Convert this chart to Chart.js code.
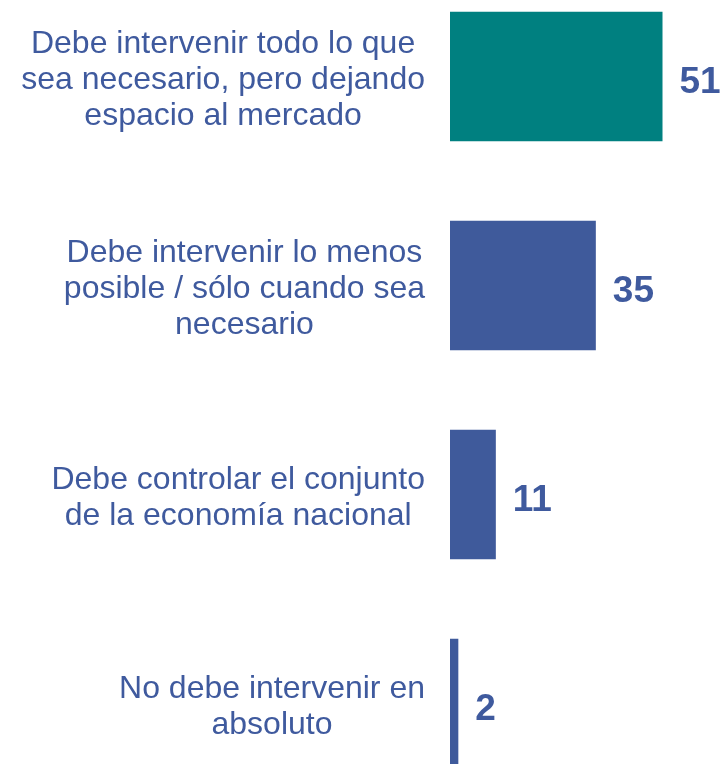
<!DOCTYPE html>
<html>
<head>
<meta charset="utf-8">
<script src="https://cdn.jsdelivr.net/npm/chart.js@4"></script>
<style>
  html, body { margin: 0; padding: 0; background: #fff; overflow: hidden; }
  body { width: 725px; height: 764px; position: relative; }
  #wrap { position: absolute; left: 0; top: -28px; width: 725px; height: 836px; }
</style>
</head>
<body>
<div id="wrap"><canvas id="chart"></canvas></div>
<script>
// categories, one array of lines per bar
const categories = [
  ["Debe intervenir todo lo que", "sea necesario, pero dejando", "espacio al mercado"],
  ["Debe intervenir lo menos", "posible / sólo cuando sea", "necesario"],
  ["Debe controlar el conjunto", "de la economía nacional"],
  ["No debe intervenir en", "absoluto"]
];
const values = [51, 35, 11, 2];
const valueLabels = ["51", "35", "11", "2"];
const barColors = ["#008080", "#3F5A9B", "#3F5A9B", "#3F5A9B"];

const textBlue = "#3F5A9E";
const fontFamily = "'Liberation Sans', Arial, sans-serif";

// category labels: block right-aligned against the bars, lines centred inside the block
const labelPlugin = {
  id: "labelPlugin",
  afterDatasetsDraw(chart) {
    const ctx = chart.ctx;
    const yScale = chart.scales.y;
    const meta = chart.getDatasetMeta(0);
    const blockRight = chart.chartArea.left - 25;
    const lineH = 36;

    ctx.save();
    ctx.fillStyle = textBlue;
    ctx.textBaseline = "middle";
    ctx.textAlign = "center";
    ctx.font = "32px " + fontFamily;

    categories.forEach((lines, i) => {
      const y = yScale.getPixelForValue(i) + 4;
      const blockW = Math.max(...lines.map(l => ctx.measureText(l).width));
      const cx = blockRight - blockW / 2;
      lines.forEach((line, j) => {
        ctx.fillText(line, cx, y + (j - (lines.length - 1) / 2) * lineH);
      });
    });

    // value labels
    ctx.font = "bold 37px " + fontFamily;
    ctx.textAlign = "left";
    meta.data.forEach((bar, i) => {
      ctx.fillText(valueLabels[i], bar.x + 17, bar.y + 6);
    });
    ctx.restore();
  }
};

new Chart(document.getElementById("chart"), {
  type: "bar",
  data: {
    labels: categories.map(c => c.join(" ")),
    datasets: [{
      data: values,
      backgroundColor: barColors,
      borderWidth: 0,
      categoryPercentage: 1,
      barPercentage: 0.62
    }]
  },
  options: {
    indexAxis: "y",
    responsive: true,
    maintainAspectRatio: false,
    animation: false,
    layout: { padding: { left: 450, right: 0, top: 0, bottom: 0 } },
    plugins: {
      legend: { display: false },
      tooltip: { enabled: false }
    },
    scales: {
      x: { display: false, min: 0, max: 66 },
      y: { display: false }
    }
  },
  plugins: [labelPlugin]
});
</script>
</body>
</html>
